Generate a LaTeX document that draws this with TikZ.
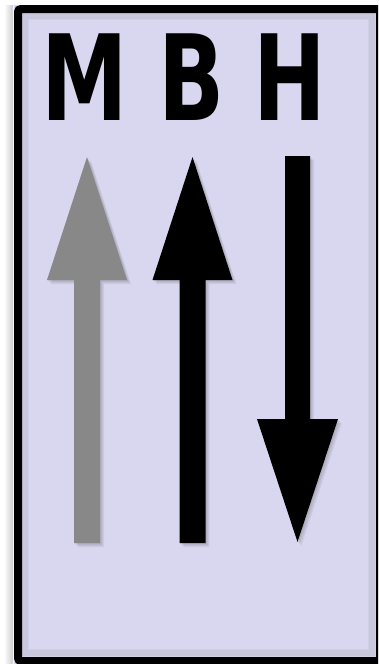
\documentclass[tikz,border=0pt]{standalone}
\usepackage{fontspec}
\newfontfamily\letterfont{DejaVu Sans}
\usetikzlibrary{calc}
\definecolor{panel}{HTML}{D9D7EF}
\definecolor{arrowgray}{HTML}{888888}

\begin{document}
\begin{tikzpicture}[x=1pt, y=-1pt,
  letter/.style={font=\letterfont\bfseries\fontsize{119}{119}\selectfont, inner sep=0pt, anchor=base, xscale=0.73},
  haze/.style={fill=black, opacity=0.05}]
\useasboundingbox (0,0) rectangle (378,664);
\clip (0,0) rectangle (378,664);
% outer shadow and panel
\shade[left color=white, right color=black!20] (4,5) rectangle (13,664);
\fill[panel] (14,5) rectangle (384,670);
% inner shadow of the panel
\foreach \i in {1,...,7}
  \draw[black, opacity=0.035, line width=2pt] (21+\i,12+\i) rectangle (376-\i,657-\i);
\draw[line width=8pt, rounded corners=3pt] (18,9) rectangle (380,661);
% letters
\foreach \x/\t in {85/M, 191.5/B, 289.5/H}
  \node[letter] (label\t) at (\x,120) {\t};
% up arrows: M (gray) and B (black)
\foreach \cx/\col in {87/arrowgray, 192.5/black} {
  \foreach \d in {1,...,4}
    \fill[haze] (\cx-13+\d,543+\d) -- (\cx-13+\d,280+\d) -- (\cx-40+\d,280+\d) -- (\cx+\d,157+\d)
      -- (\cx+40+\d,280+\d) -- (\cx+13+\d,280+\d) -- (\cx+13+\d,543+\d) -- cycle;
  \fill[\col] (\cx-13,543) -- (\cx-13,280) -- (\cx-40,280) -- (\cx,157)
    -- (\cx+40,280) -- (\cx+13,280) -- (\cx+13,543) -- cycle;
}
% down arrow: H
\foreach \d in {1,...,4}
  \fill[haze] (285+\d,156+\d) -- (310+\d,156+\d) -- (310+\d,419+\d) -- (338+\d,419+\d)
    -- (297.5+\d,542+\d) -- (257+\d,419+\d) -- (285+\d,419+\d) -- cycle;
\fill[black] (285,156) -- (310,156) -- (310,419) -- (338,419)
  -- (297.5,542) -- (257,419) -- (285,419) -- cycle;
\end{tikzpicture}
\end{document}
